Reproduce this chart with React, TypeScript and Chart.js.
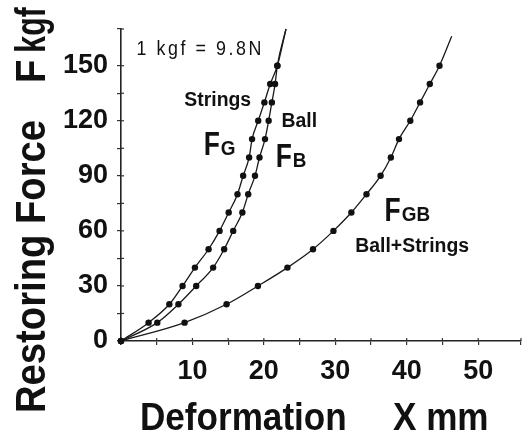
import React, { useEffect, useRef } from "react";
import { Chart, registerables } from "chart.js";

Chart.register(...registerables);

// Restoring force levels (kgf) at which deformation was measured
const forceLevels = [10, 20, 30, 40, 50, 60, 70, 80, 90, 100, 110, 120, 130, 140, 150];
// Deformation (mm) – strings (FG)
const fgDeform = [3.86, 6.77, 8.62, 10.35, 12.26, 13.8, 15.08, 16.31, 17.1, 17.94, 18.35, 19.21, 20.07, 20.89, 21.89];
// Deformation (mm) – ball (FB)
const fbDeform = [5.08, 8.04, 10.53, 12.9, 14.44, 15.71, 16.99, 17.81, 18.76, 19.39, 20.16, 20.67, 21.12, 21.57, 21.89];
// Deformation (mm) – ball + strings (FGB)
const fgbDeform = [8.9, 14.78, 19.17, 23.3, 26.88, 29.74, 32.25, 34.37, 36.34, 37.78, 38.92, 40.5, 41.87, 43.23, 44.59];
// Where the fitted curves leave the plot (deformation mm, force kgf)
const fgCurveEnd = [23.1, 170];
const fbCurveEnd = [23.1, 170];
const fgbCurveEnd = [46.3, 166];

const xMax = 56;
const yMax = 170;
const xStep = 5;
const yStep = 15;

const FONT = "'Liberation Sans', Arial, Helvetica, sans-serif";

// text annotations, anchored in data coordinates
const notes = [
  { text: "Strings", x: 8.86, y: 128.2 },
  { text: "Ball", x: 22.48, y: 116.7 },
  { text: "Ball+Strings", x: 32.8, y: 48.6 },
];
const fLabels = [
  { main: "F", sub: "G", x: 11.58, y: 101.5 },
  { main: "F", sub: "B", x: 21.66, y: 94.9 },
  { main: "F", sub: "GB", x: 36.9, y: 65.5 },
];
const unitNote = { text: "1 kgf = 9.8N", x: 2.18, y: 156 };

function series(deform: number[], end: number[]) {
  const pts = [{ x: 0, y: 0 }];
  deform.forEach((d, i) => pts.push({ x: d, y: forceLevels[i] }));
  pts.push({ x: end[0], y: end[1] });
  return pts;
}

function radii(n: number) {
  const r: number[] = [];
  for (let i = 0; i < n; i++) r.push(i === n - 1 ? 0 : 3.2);
  return r;
}

function drawText(ctx: CanvasRenderingContext2D, text: string, x: number, y: number, font: string, sx = 1, rot = 0, spacing = "0px") {
  ctx.save();
  ctx.translate(x, y);
  if (rot) ctx.rotate(rot);
  ctx.scale(sx, 1);
  ctx.font = font;
  (ctx as any).letterSpacing = spacing;
  ctx.textAlign = "left";
  ctx.textBaseline = "alphabetic";
  ctx.fillText(text, 0, 0);
  const w = ctx.measureText(text).width * sx;
  ctx.restore();
  return w;
}

const textPlugin = {
  id: "figureTexts",
  afterDraw(chart: any) {
    const { ctx, chartArea } = chart;
    const xs = chart.scales.x;
    const ys = chart.scales.y;
    ctx.save();
    ctx.strokeStyle = "#333";
    ctx.lineWidth = 1.2;
    // inward halves of the crossing tick marks
    xs.ticks.forEach((t: any) => {
      const px = xs.getPixelForValue(t.value);
      if (t.value === 0) return;
      ctx.beginPath();
      ctx.moveTo(px, chartArea.bottom);
      ctx.lineTo(px, chartArea.bottom - 3);
      ctx.stroke();
    });
    ys.ticks.forEach((t: any) => {
      const py = ys.getPixelForValue(t.value);
      if (t.value === 0) return;
      ctx.beginPath();
      ctx.moveTo(chartArea.left, py);
      ctx.lineTo(chartArea.left + 3, py);
      ctx.stroke();
    });

    ctx.fillStyle = "#111";
    // unit note
    drawText(ctx, unitNote.text, xs.getPixelForValue(unitNote.x), ys.getPixelForValue(unitNote.y), `21px ${FONT}`, 0.85, 0, "3px");
    // small bold notes
    notes.forEach((n) => {
      drawText(ctx, n.text, xs.getPixelForValue(n.x), ys.getPixelForValue(n.y), `bold 20px ${FONT}`, 0.97);
    });
    // F labels with small-cap suffix
    fLabels.forEach((f) => {
      const px = xs.getPixelForValue(f.x);
      const py = ys.getPixelForValue(f.y);
      const w = drawText(ctx, f.main, px, py, `bold 33px ${FONT}`, 0.8);
      drawText(ctx, f.sub, px + w + 1, py, `bold 21px ${FONT}`, 0.9);
    });
    // x axis title
    const xb = chartArea.bottom + 89;
    drawText(ctx, "Deformation", chartArea.left + 19, xb, `bold 39px ${FONT}`, 0.9);
    drawText(ctx, "X mm", chartArea.left + 272, xb, `bold 39px ${FONT}`, 0.9);
    // y axis title (rotated)
    const yb = chartArea.left - 76;
    drawText(ctx, "Restoring Force", yb, chartArea.bottom + 72, `bold 42px ${FONT}`, 0.91, -Math.PI / 2);
    const fw = drawText(ctx, "F", yb, chartArea.top + 54, `bold 42px ${FONT}`, 0.91, -Math.PI / 2);
    drawText(ctx, "kgf", yb, chartArea.top + 54 - fw - 7, `bold 42px ${FONT}`, 0.72, -Math.PI / 2);
    ctx.restore();
  },
};

export default function App() {
  const ref = useRef<HTMLCanvasElement | null>(null);

  useEffect(() => {
    document.body.style.margin = "0";
    const canvas = ref.current;
    if (!canvas) return;
    const lineStyle = {
      showLine: true,
      borderColor: "#1a1a1a",
      borderWidth: 1.3,
      backgroundColor: "#111",
      pointBackgroundColor: "#111",
      pointBorderColor: "#111",
      pointBorderWidth: 0,
      cubicInterpolationMode: "monotone" as const,
      clip: false as any,
    };
    const fg = series(fgDeform, fgCurveEnd);
    const fb = series(fbDeform, fbCurveEnd);
    const fgb = series(fgbDeform, fgbCurveEnd);
    const chart = new Chart(canvas, {
      type: "scatter",
      data: {
        datasets: [
          { label: "FG Strings", data: fg, pointRadius: radii(fg.length), ...lineStyle },
          { label: "FB Ball", data: fb, pointRadius: radii(fb.length), ...lineStyle },
          { label: "FGB Ball+Strings", data: fgb, pointRadius: radii(fgb.length), ...lineStyle },
        ],
      },
      options: {
        animation: false,
        responsive: false,
        devicePixelRatio: 1,
        layout: { padding: { top: 29, right: 0, left: 0, bottom: 0 } },
        plugins: { legend: { display: false }, tooltip: { enabled: false } },
        scales: {
          x: {
            type: "linear",
            min: 0,
            max: xMax,
            afterFit(s: any) {
              s.height = 98;
            },
            ticks: {
              stepSize: xStep,
              autoSkip: false,
              maxRotation: 0,
              padding: 10,
              color: "#111",
              font: { family: FONT, size: 27, weight: "bold" },
              callback: (v: any) => (v % 10 === 0 && v !== 0 ? String(v) : ""),
            },
            grid: { drawOnChartArea: false, tickLength: 4, color: "#333", lineWidth: 1.2 },
            border: { display: true, color: "#222", width: 1.6 },
          },
          y: {
            type: "linear",
            min: 0,
            max: yMax,
            afterFit(s: any) {
              s.width = 121;
            },
            ticks: {
              stepSize: yStep,
              autoSkip: false,
              padding: 9,
              color: "#111",
              font: { family: FONT, size: 27, weight: "bold" },
              callback: (v: any) => (v % 30 === 0 ? String(v) : ""),
            },
            grid: { drawOnChartArea: false, tickLength: 4, color: "#333", lineWidth: 1.2 },
            border: { display: true, color: "#222", width: 1.6 },
          },
        },
      },
      plugins: [textPlugin],
    });
    return () => chart.destroy();
  }, []);

  return (
    <div style={{ position: "fixed", left: 0, top: 0, width: 531, height: 439, background: "#fff" }}>
      <canvas ref={ref} width={531} height={439} style={{ width: 531, height: 439, display: "block" }} />
    </div>
  );
}
